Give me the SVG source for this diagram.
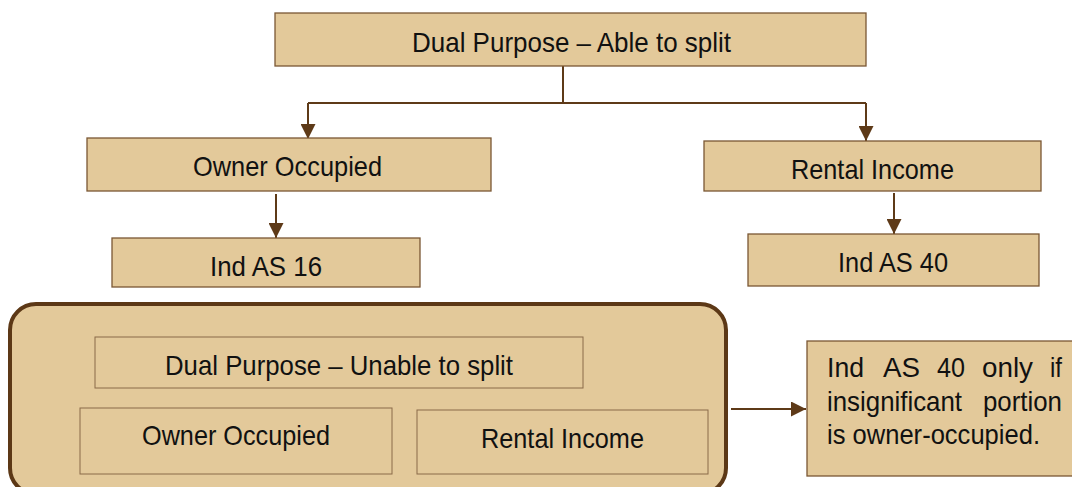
<svg xmlns="http://www.w3.org/2000/svg" width="1072" height="487" viewBox="0 0 1072 487">
<defs>
<style>
.box{fill:#e3c99a;stroke:#7a5734;stroke-width:1.3}
.inner{fill:#e3c99a;stroke:#8a6a48;stroke-width:1}
.big{fill:#e3c99a;stroke:#5c3816;stroke-width:4}
.t{font-family:"Liberation Sans",Arial,sans-serif;font-size:28px;fill:#111}
.c{stroke:#5e3a18;stroke-width:2;fill:none}
</style>
<marker id="ah" viewBox="0 0 10 10" refX="10" refY="5" markerWidth="15" markerHeight="15" markerUnits="userSpaceOnUse" orient="auto">
<path d="M0,0 L10,5 L0,10 z" fill="#5e3a18"/>
</marker>
</defs>
<rect width="1072" height="487" fill="#ffffff"/>
<g id="connectors">
<path class="c" d="M563,66 V103"/>
<path class="c" d="M308,103 H866"/>
<path class="c" d="M308,103 V139" marker-end="url(#ah)"/>
<path class="c" d="M866,103 V141" marker-end="url(#ah)"/>
<path class="c" d="M276,194 V238" marker-end="url(#ah)"/>
<path class="c" d="M894,193 V234" marker-end="url(#ah)"/>
<path class="c" d="M731,409 H806" marker-end="url(#ah)"/>
</g>
<g id="n-top">
<rect class="box" x="275" y="13" width="591" height="53"/>
<text class="t" x="412" y="52" textLength="319" lengthAdjust="spacingAndGlyphs">Dual Purpose – Able to split</text>
</g>
<g id="n-owner">
<rect class="box" x="87" y="138" width="404" height="53"/>
<text class="t" x="193" y="176" textLength="189" lengthAdjust="spacingAndGlyphs">Owner Occupied</text>
</g>
<g id="n-rental">
<rect class="box" x="704" y="141" width="337" height="50"/>
<text class="t" x="791" y="179" textLength="163" lengthAdjust="spacingAndGlyphs">Rental Income</text>
</g>
<g id="n-as16">
<rect class="box" x="112" y="238" width="308" height="49"/>
<text class="t" x="210" y="276" textLength="112" lengthAdjust="spacingAndGlyphs">Ind AS 16</text>
</g>
<g id="n-as40">
<rect class="box" x="748" y="234" width="291" height="52"/>
<text class="t" x="838" y="272" textLength="110" lengthAdjust="spacingAndGlyphs">Ind AS 40</text>
</g>
<g id="n-unable">
<rect class="big" x="10" y="304" width="716" height="190" rx="26" ry="26"/>
<rect class="inner" x="95" y="337" width="488" height="51"/>
<text class="t" x="165" y="375" textLength="348" lengthAdjust="spacingAndGlyphs">Dual Purpose – Unable to split</text>
<rect class="inner" x="80" y="408" width="312" height="66"/>
<text class="t" x="142" y="445" textLength="188" lengthAdjust="spacingAndGlyphs">Owner Occupied</text>
<rect class="inner" x="417" y="410" width="291" height="64"/>
<text class="t" x="481" y="448" textLength="163" lengthAdjust="spacingAndGlyphs">Rental Income</text>
</g>
<g id="n-result">
<rect class="box" x="807" y="341" width="270" height="135"/>
<text class="t"><tspan x="827" y="377" textLength="37" lengthAdjust="spacingAndGlyphs">Ind</tspan><tspan x="883" y="377" textLength="37" lengthAdjust="spacingAndGlyphs">AS</tspan><tspan x="937" y="377" textLength="28" lengthAdjust="spacingAndGlyphs">40</tspan><tspan x="982" y="377" textLength="51" lengthAdjust="spacingAndGlyphs">only</tspan><tspan x="1050" y="377" textLength="12" lengthAdjust="spacingAndGlyphs">if</tspan></text>
<text class="t"><tspan x="827" y="411" textLength="135" lengthAdjust="spacingAndGlyphs">insignificant</tspan><tspan x="983" y="411" textLength="79" lengthAdjust="spacingAndGlyphs">portion</tspan></text>
<text class="t" x="827" y="444" textLength="213" lengthAdjust="spacingAndGlyphs">is owner-occupied.</text>
</g>
</svg>
